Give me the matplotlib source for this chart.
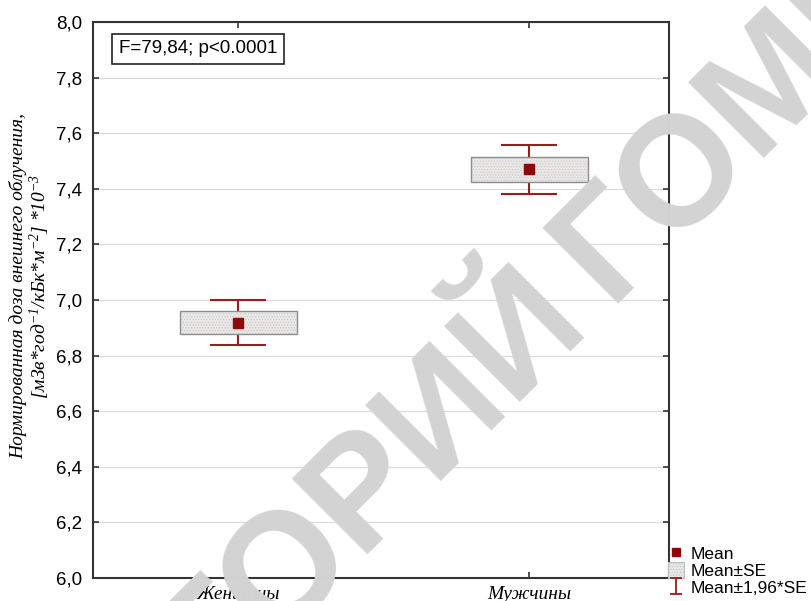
import numpy as np
import matplotlib
matplotlib.use('Agg')
import matplotlib.pyplot as plt
from matplotlib.lines import Line2D
from matplotlib.patches import Patch
from matplotlib.path import Path

# данные
categories = ['Женщины', 'Мужчины']
means = np.array([6.919, 7.470])
se = np.array([0.042, 0.045])
yticks = [6.0, 6.2, 6.4, 6.6, 6.8, 7.0, 7.2, 7.4, 7.6, 7.8, 8.0]
ytick_labels = ['6,0', '6,2', '6,4', '6,6', '6,8', '7,0', '7,2', '7,4', '7,6', '7,8', '8,0']
stat_text = 'F=79,84; p<0.0001'
legend_labels = ['Mean', 'Mean±SE', 'Mean±1,96*SE']

plt.rcParams['font.family'] = ['Liberation Sans', 'DejaVu Sans']
plt.rcParams['mathtext.fontset'] = 'custom'
plt.rcParams['mathtext.it'] = 'Liberation Serif:italic'
plt.rcParams['mathtext.rm'] = 'Liberation Serif:italic'
plt.rcParams['hatch.linewidth'] = 0.4

dark_red = '#8b0a0a'
whisker_red = '#9b1c1c'
box_face = '#e9e6e6'

fig = plt.figure(figsize=(8.11, 6.01), dpi=100)
ax = fig.add_axes([93 / 811, 23 / 601, 576 / 811, 556 / 601])

x = np.arange(len(categories))

# усы: среднее ± 1,96*SE
ax.errorbar(x, means, yerr=1.96 * se, fmt='none', ecolor=whisker_red,
            elinewidth=1.5, capsize=20.5, capthick=1.5, zorder=2)
# прямоугольник: среднее ± SE
ax.bar(x, 2 * se, bottom=means - se, width=0.4, color=box_face,
       edgecolor='#c9c6c6', hatch='......', linewidth=0, zorder=3)
ax.bar(x, 2 * se, bottom=means - se, width=0.4, fill=False,
       edgecolor='#8e8e8e', linewidth=1.0, zorder=4)
# среднее
ax.plot(x, means, 's', color=dark_red, markersize=7, zorder=5)

ax.set_xlim(-0.5, 1.48)
ax.set_ylim(6.0, 8.0)
ax.set_yticks(yticks)
ax.set_yticklabels(ytick_labels, fontsize=13.5)
ax.set_xticks(x)
ax.set_xticklabels(categories, fontsize=14, family=['Liberation Serif'], style='italic')
ax.tick_params(axis='both', direction='in', length=4, width=1.2, color='#333333',
               top=True, right=True)
ax.tick_params(axis='x', pad=6)
ax.tick_params(axis='y', pad=8)
ax.grid(axis='y', color='#dcdcdc', linewidth=0.9)
ax.set_axisbelow(True)
for sp in ax.spines.values():
    sp.set_color('#333333')
    sp.set_linewidth(1.5)

ax.set_ylabel('Нормированная доза внешнего облучения,\n'
              r'[мЗв*год$^{-1}$/кБк*м$^{-2}$] *10$^{-3}$',
              fontsize=14, family=['Liberation Serif'], style='italic',
              linespacing=1.05)
ax.yaxis.set_label_coords(-0.071, 0.525)

ax.text(0.182, 0.952, stat_text, transform=ax.transAxes, ha='center', va='center',
        fontsize=13.5, zorder=6,
        bbox=dict(boxstyle='square,pad=0.35', facecolor='white', edgecolor='#222222', linewidth=1.2))

# легенда справа внизу
ibar = Path([(-0.75, 1), (0.75, 1), (0, 1), (0, -1), (-0.75, -1), (0.75, -1)],
            [Path.MOVETO, Path.LINETO, Path.MOVETO, Path.LINETO, Path.MOVETO, Path.LINETO])
handles = [
    Line2D([], [], marker='s', color=dark_red, linestyle='none', markersize=6),
    Patch(facecolor=box_face, edgecolor='#bdbdbd', hatch='......', linewidth=0.8),
    Line2D([], [], marker=ibar, color=whisker_red, linestyle='none', markersize=12,
           markeredgewidth=1.3, fillstyle='none'),
]
fig.legend(handles, legend_labels, loc='lower left', bbox_to_anchor=(668 / 811, 0.008),
           frameon=False, fontsize=12.5, handlelength=0.9, handleheight=1.1,
           handletextpad=0.4, labelspacing=0.0, borderpad=0, borderaxespad=0)

# водяной знак
wm = dict(rotation=45, rotation_mode='anchor', va='baseline', fontsize=112,
          weight='bold', color='#d3d3d3', family=['Liberation Sans'], zorder=20)
fig.text(608 / 811, 1 - 304 / 601, 'ГОМГМУ', ha='left', **wm)
fig.text(590 / 811, 1 - 322 / 601, 'РЕПОЗИТОРИЙ', ha='right', **wm)

fig.savefig('out.png', dpi=100)
